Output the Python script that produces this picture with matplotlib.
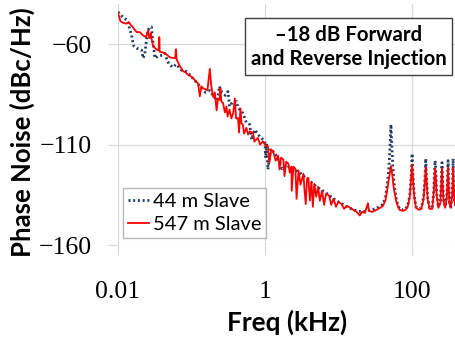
import matplotlib
matplotlib.use("Agg")
import matplotlib.pyplot as plt
from matplotlib.patches import Rectangle

# 547 m slave (red)
red_f = [0.0100, 0.0104, 0.0108, 0.0112, 0.0120, 0.0131, 0.0140, 0.0150, 0.0161, 0.0170,
         0.0180, 0.0199, 0.0210, 0.0221, 0.0240, 0.0258, 0.0265, 0.0272, 0.0280, 0.0290,
         0.0302, 0.0320, 0.0340, 0.0360, 0.0365, 0.0370, 0.0400, 0.0435, 0.0470, 0.0510,
         0.0560, 0.0600, 0.0614, 0.0630, 0.0698, 0.0770, 0.0830, 0.0900, 0.0980, 0.1060,
         0.1150, 0.1230, 0.1300, 0.1360, 0.1440, 0.1550, 0.1650, 0.1780, 0.1850, 0.1970,
         0.2080, 0.2200, 0.2300, 0.2430, 0.2480, 0.2550, 0.2700, 0.2850, 0.3000, 0.3100,
         0.3300, 0.3500, 0.3700, 0.3900, 0.4050, 0.4300, 0.4450, 0.4650, 0.4800, 0.5000,
         0.5200, 0.5600, 0.5900, 0.6200, 0.6900, 0.7200, 0.8000, 0.8600, 0.9400, 1.0200,
         1.1000, 1.1500, 1.2200, 1.3000, 1.4000, 1.5200, 1.5800, 1.6600, 1.7800, 1.8500,
         1.9500, 2.0800, 2.1800, 2.3000, 2.3200, 2.4500, 2.6000, 2.7000, 2.8700, 3.0500,
         3.3500, 3.4500, 3.6000, 3.7500, 3.9000, 4.1000, 4.3000, 4.5000, 4.7000, 5.0000,
         5.3000, 5.6000, 6.0000, 6.4000, 6.8000, 7.5000, 8.0000, 8.6000, 9.3000, 10.000,
         11.000, 12.000, 13.000, 14.500, 16.000, 17.700, 19.600, 21.000, 23.000, 25.300,
         26.000, 29.000, 33.000, 37.000, 40.600, 44.000, 47.000, 50.000, 52.000, 54.000,
         57.000, 62.000, 68.000, 75.000, 82.000, 88.000, 94.000, 98.000, 101.00, 104.00,
         108.00, 114.00, 125.00, 135.00, 145.00, 151.00, 155.00, 159.00, 165.00, 175.00,
         190.00, 200.00, 205.00, 208.00, 211.00, 218.00, 230.00, 245.00, 252.00, 258.00,
         262.00, 270.00, 285.00, 300.00, 307.00, 312.00, 317.00, 325.00, 340.00, 355.00,
         362.00, 365.00, 368.00, 380.00, 400.00]
red_db = [-44.5, -46.5, -48.5, -49.0, -49.5, -49.8, -49.0, -50.5, -51.7, -53.0,
          -54.0, -54.0, -55.0, -55.7, -56.5, -53.0, -56.9, -57.0, -54.5, -58.5,
          -61.0, -62.0, -62.8, -63.0, -56.5, -63.8, -64.0, -64.6, -65.5, -66.6,
          -66.8, -67.0, -62.5, -67.7, -71.0, -73.5, -74.0, -75.3, -76.0, -77.0,
          -78.5, -79.5, -86.0, -81.0, -82.0, -82.5, -83.0, -72.3, -80.0, -86.3,
          -84.0, -93.0, -87.0, -87.7, -82.0, -88.5, -89.4, -94.0, -91.0, -96.0,
          -92.6, -97.0, -94.3, -87.0, -97.0, -96.7, -104.0, -92.0, -99.5, -100.0,
          -104.5, -101.7, -105.0, -103.4, -104.2, -108.5, -106.7, -110.0, -108.4, -110.5,
          -110.9, -119.0, -112.5, -113.4, -118.0, -115.5, -122.4, -116.5, -117.4, -125.7,
          -118.5, -119.4, -124.0, -121.0, -133.0, -121.0, -122.0, -137.0, -122.8, -130.0,
          -124.5, -132.0, -139.6, -127.0, -126.5, -137.8, -128.5, -141.0, -129.5, -136.0,
          -131.0, -138.0, -133.0, -140.0, -134.5, -135.5, -140.0, -137.0, -141.0, -138.5,
          -139.5, -142.0, -140.5, -141.5, -142.5, -143.5, -145.3, -143.5, -144.0, -139.2,
          -143.0, -143.5, -142.5, -141.5, -140.5, -137.5, -131.0, -124.5, -120.7, -124.5,
          -132.0, -139.0, -142.5, -143.0, -142.5, -141.0, -136.0, -127.0, -120.0, -127.0,
          -136.0, -141.5, -142.5, -142.0, -137.0, -128.0, -121.4, -128.0, -137.5, -142.0,
          -142.0, -133.0, -125.0, -122.0, -125.0, -135.0, -141.5, -139.0, -130.0, -122.0,
          -128.0, -138.0, -141.5, -136.0, -128.0, -121.5, -128.0, -139.0, -141.5, -135.0,
          -127.0, -121.5, -126.0, -138.0, -141.0]

# 44 m slave (navy, dotted)
blue_f = [0.0100, 0.0116, 0.0133, 0.0153, 0.0158, 0.0165, 0.0180, 0.0210, 0.0220, 0.0232,
          0.0250, 0.0258, 0.0270, 0.0286, 0.0295, 0.0318, 0.0350, 0.0400, 0.0435, 0.0470,
          0.0510, 0.0560, 0.0620, 0.0730, 0.0860, 0.0950, 0.1120, 0.1230, 0.1370, 0.1550,
          0.1780, 0.2000, 0.2250, 0.2400, 0.2600, 0.2900, 0.3150, 0.3300, 0.3600, 0.4100,
          0.4300, 0.4700, 0.5000, 0.5600, 0.6200, 0.6600, 0.7300, 0.8500, 1.0000, 1.0200,
          1.0600, 1.1000, 1.2000, 1.4000, 1.6000, 1.7000, 1.9700, 2.2000, 2.5000, 3.0000,
          3.7000, 4.5000, 5.3000, 6.2000, 7.5000, 9.0000, 10.500, 12.500, 15.000, 17.700,
          21.600, 26.800, 33.000, 40.600, 44.000, 47.000, 49.500, 51.000, 52.000, 53.000,
          55.000, 58.000, 62.000, 68.000, 75.000, 82.000, 88.000, 94.000, 98.000, 101.00,
          104.00, 108.00, 114.00, 125.00, 135.00, 145.00, 151.00, 155.00, 159.00, 165.00,
          175.00, 190.00, 200.00, 205.00, 208.00, 211.00, 218.00, 230.00, 245.00, 252.00,
          258.00, 262.00, 270.00, 285.00, 300.00, 307.00, 312.00, 317.00, 325.00, 340.00,
          355.00, 362.00, 365.00, 368.00, 380.00, 400.00]
blue_db = [-44.0, -46.5, -48.0, -55.5, -58.4, -61.0, -62.0, -63.0, -67.0, -64.6,
           -55.0, -53.0, -51.5, -51.4, -57.0, -67.0, -66.0, -65.5, -64.6, -68.5,
           -70.4, -71.5, -70.0, -72.9, -73.7, -75.3, -78.2, -80.0, -81.5, -84.0,
           -83.1, -86.0, -88.0, -81.0, -84.0, -85.5, -83.6, -91.0, -89.0, -88.5,
           -91.8, -93.0, -94.3, -99.0, -100.0, -107.5, -102.6, -106.0, -108.4, -116.6,
           -109.5, -122.4, -112.0, -115.0, -119.0, -122.0, -120.0, -121.5, -122.5, -124.0,
           -127.0, -129.5, -131.5, -133.1, -135.2, -137.5, -138.9, -140.5, -142.0, -143.0,
           -143.5, -142.7, -141.8, -139.7, -136.0, -128.0, -118.0, -107.0, -100.0, -107.0,
           -120.0, -131.0, -138.0, -142.0, -142.5, -142.0, -140.5, -135.0, -126.0, -114.5,
           -126.0, -135.0, -141.0, -142.0, -141.5, -136.0, -127.0, -117.0, -127.0, -137.0,
           -141.5, -141.5, -132.0, -121.0, -118.0, -121.0, -134.0, -141.0, -138.0, -128.0,
           -119.0, -126.0, -137.0, -141.0, -135.0, -126.0, -118.0, -127.0, -139.0, -141.0,
           -134.0, -125.0, -117.0, -124.0, -138.0, -141.0]

y_ticks = [-160, -110, -60]
x_ticks = [0.01, 1, 100]
x_labels = ["0.01", "1", "100"]

W, H = 456, 339
sans = ["Lato", "DejaVu Sans"]
grid_c = "#d9d9d9"

fig = plt.figure(figsize=(W / 100, H / 100), dpi=100)
ax = fig.add_axes([118 / W, 1 - 245 / H, 338 / W, 241 / H])
ax.set_xscale("log")
ax.set_xlim(0.01, 400)
ax.set_ylim(-160, -40)

ax.plot(blue_f, blue_db, color="#1f3864", lw=2.0, ls=(0, (0.7, 1.0)),
        label="44 m Slave", zorder=3)
ax.plot(red_f, red_db, color="#ff0000", lw=1.3, label="547 m Slave", zorder=4)

ax.set_xticks(x_ticks)
ax.set_xticklabels(x_labels)
ax.set_yticks(y_ticks)
ax.minorticks_off()
ax.grid(True, color=grid_c, lw=0.9)
for s in ax.spines.values():
    s.set_visible(False)
ax.tick_params(axis="both", length=7, width=0.9, color=grid_c, direction="out",
               labelsize=18.5, labelfontfamily="Liberation Serif")
ax.tick_params(axis="y", pad=12)
ax.tick_params(axis="x", pad=19)

leg = ax.legend(loc="lower left", bbox_to_anchor=(0.014, 0.029), borderaxespad=0,
                prop={"family": sans, "size": 14.5}, fancybox=False,
                edgecolor="#a6a6a6", handlelength=1.05, handletextpad=0.2,
                borderpad=0.25, labelspacing=0.3)
leg.get_frame().set_linewidth(1.0)

fig.text(22 / W, 1 - 132 / H, "Phase Noise (dBc/Hz)", rotation=90, ha="center",
         va="center", fontsize=18.5, fontweight="bold", family=sans)
fig.text(287.5 / W, 1 - 322 / H, "Freq (kHz)", ha="center", va="center",
         fontsize=18.8, fontweight="bold", family=sans)

fig.patches.append(Rectangle((245 / W, 1 - 75 / H), 206.7 / W, 56.7 / H,
                             transform=fig.transFigure, fill=True, facecolor="white",
                             edgecolor="#404040", lw=1.0, zorder=5))
fig.text(348.4 / W, 1 - 47 / H, "\u201318 dB Forward\nand Reverse Injection",
         ha="center", va="center", fontsize=14.7, fontweight="bold", family=sans,
         linespacing=1.2, zorder=6)

fig.savefig("out.png", dpi=100)
